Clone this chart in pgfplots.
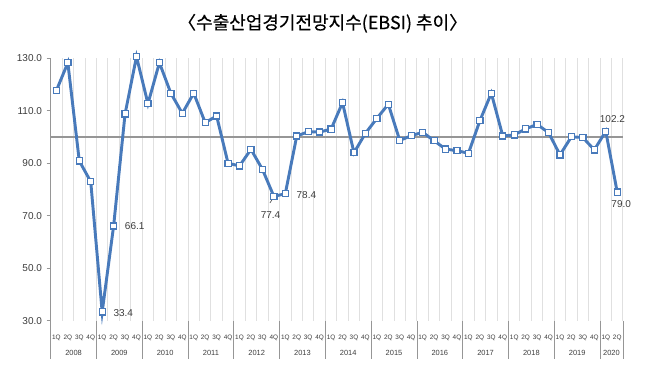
\documentclass[border=0pt]{standalone}
\usepackage{pgfplots}
\pgfplotsset{compat=1.18}
\usepackage{fontspec}
\setmainfont{Liberation Sans}
\newfontfamily\krfont[BoldFont={Noto Sans CJK KR}, BoldFeatures={FakeBold=0.5}]{Noto Sans CJK KR}
\definecolor{lineblue}{RGB}{72,122,187}
\definecolor{gridgray}{RGB}{224,224,224}
\definecolor{refgray}{RGB}{150,150,150}
\definecolor{axgray}{RGB}{150,150,150}
\definecolor{txtgray}{RGB}{60,60,60}
\begin{document}
\begin{tikzpicture}
\path[use as bounding box] (0,0) rectangle (489pt,288pt);
\node[font=\krfont\bfseries\fontsize{13.5}{15}\selectfont, text=black, anchor=center] at (242pt,270.5pt) {〈수출산업경기전망지수(EBSI) 추이〉};
\begin{axis}[
  at={(38pt,47.4pt)}, anchor=south west,
  scale only axis, width=429.2pt, height=196.9pt,
  xmin=-0.5, xmax=49.5, ymin=30, ymax=130,
  clip=false,
  axis y line*=left, axis x line*=bottom,
  x axis line style={draw=none},
  y axis line style={axgray, line width=0.6pt},
  ytick={30,50,...,130},
  /pgf/number format/fixed,
  /pgf/number format/fixed zerofill,
  /pgf/number format/precision=1,
  /pgf/number format/assume math mode=true,
  yticklabel style={font=\fontsize{7.5}{8}\selectfont, text=txtgray},
  y tick style={axgray, line width=0.6pt},
  tick align=outside, major tick length=3pt,
  xtick={0,...,49},
  xticklabels={1Q,2Q,3Q,4Q,1Q,2Q,3Q,4Q,1Q,2Q,3Q,4Q,1Q,2Q,3Q,4Q,1Q,2Q,3Q,4Q,1Q,2Q,3Q,4Q,1Q,2Q,3Q,4Q,1Q,2Q,3Q,4Q,1Q,2Q,3Q,4Q,1Q,2Q,3Q,4Q,1Q,2Q,3Q,4Q,1Q,2Q,3Q,4Q,1Q,2Q},
  xticklabel style={font=\fontsize{4.8}{5}\selectfont, text=txtgray, yshift=-4pt},
  x tick style={draw=none},
  minor xtick={-0.5,0.5,...,49.5},
  minor tick length=0pt,
  xminorgrids,
  minor grid style={gridgray, line width=0.7pt},
]
\draw[refgray, line width=1pt] (axis cs:-0.5,100) -- (axis cs:49.5,100);
\addplot[lineblue, line width=2.2pt, mark=square*, mark size=2.3pt,
  mark options={fill=white, draw=lineblue, line width=0.9pt}]
  coordinates {
  (0,117.7) (1,128.3) (2,90.9) (3,83.0)
  (4,33.4) (5,66.1) (6,108.8) (7,130.6)
  (8,112.7) (9,128.3) (10,116.7) (11,109.0)
  (12,116.7) (13,105.5) (14,108.0) (15,90.0)
  (16,89.0) (17,95.3) (18,87.7) (19,77.4)
  (20,78.4) (21,100.4) (22,102.0) (23,101.9)
  (24,103.0) (25,113.1) (26,94.0) (27,101.4)
  (28,107.1) (29,112.5) (30,98.7) (31,100.5)
  (32,101.8) (33,98.6) (34,95.4) (35,94.8)
  (36,93.8) (37,106.2) (38,116.7) (39,100.4)
  (40,100.8) (41,103.1) (42,104.8) (43,101.7)
  (44,93.2) (45,100.1) (46,99.8) (47,95.1)
  (48,102.2) (49,79.0)
  };
% year separators
\foreach \xx in {-0.5,3.5,7.5,11.5,15.5,19.5,23.5,27.5,31.5,35.5,39.5,43.5,47.5,49.5}{
  \edef\tmp{\noexpand\draw[axgray, line width=0.6pt] (axis cs:\xx,30) -- ([yshift=-29pt]axis cs:\xx,30);}\tmp
}
\foreach \xx/\yy in {1.5/2008,5.5/2009,9.5/2010,13.5/2011,17.5/2012,21.5/2013,25.5/2014,29.5/2015,33.5/2016,37.5/2017,41.5/2018,45.5/2019,48.5/2020}{
  \edef\tmp{\noexpand\node[font=\noexpand\fontsize{5.6}{6}\noexpand\selectfont, text=txtgray] at (axis cs:\xx,30) [yshift=-24pt] {\yy};}\tmp
}
% data labels
\node[font=\fontsize{7.5}{8}\selectfont, text=txtgray, anchor=west] at (axis cs:4,33.4) [xshift=5pt,yshift=-1pt] {33.4};
\node[font=\fontsize{7.5}{8}\selectfont, text=txtgray, anchor=west] at (axis cs:5,66.1) [xshift=5pt] {66.1};
\draw[txtgray, line width=0.4pt] (axis cs:19,77.4) ++(-1pt,-2pt) -- ++(-2pt,-3pt);
\node[font=\fontsize{7.5}{8}\selectfont, text=txtgray] at (axis cs:19,77.4) [xshift=-2.5pt,yshift=-14pt] {77.4};
\node[font=\fontsize{7.5}{8}\selectfont, text=txtgray, anchor=west] at (axis cs:20,78.4) [xshift=5pt,yshift=-1pt] {78.4};
\node[font=\fontsize{7.5}{8}\selectfont, text=txtgray] at (axis cs:48,102.2) [xshift=5pt,yshift=9pt] {102.2};
\node[font=\fontsize{7.5}{8}\selectfont, text=txtgray] at (axis cs:49,79.0) [xshift=3pt,yshift=-9pt] {79.0};
\end{axis}
\end{tikzpicture}
\end{document}
